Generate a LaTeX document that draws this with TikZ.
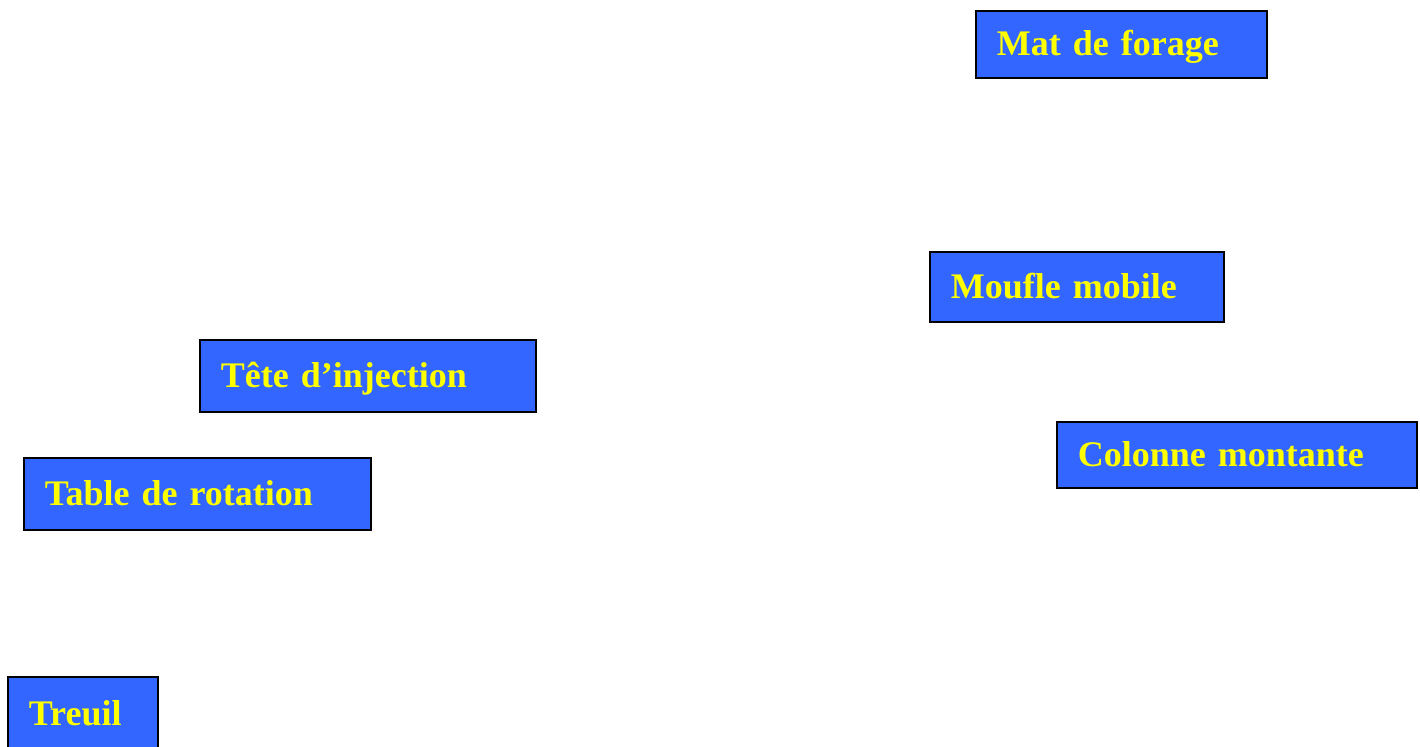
\documentclass[tikz,border=0pt]{standalone}
\usepackage{fontspec}
\setmainfont{Liberation Serif}
\definecolor{PartBlue}{RGB}{51, 102, 255}
\definecolor{PartYellow}{RGB}{255, 255, 0}
\tikzstyle{part} = [rectangle, anchor=north west, align=left, draw=black, fill=PartBlue, text=PartYellow, line width=0.9pt, inner xsep=10.5pt, inner ysep=0pt, text height=1.35em, text depth=0.2em, font=\fontsize{18}{22}\selectfont\bfseries]

\begin{document}
\begin{tikzpicture}[x=0.5pt, y=-0.5pt]
\useasboundingbox (0,0) rectangle (1420,746);

% Mât et moufle
\node (mat) [part, text width=124.5pt, minimum height=33.5pt] at (975,10) {Mat de forage};
\node (moufle) [part, text width=126pt, minimum height=35pt] at (929,251) {Moufle mobile};

% Tête et table
\node (tete) [part, text width=147pt, minimum height=36pt] at (199,339) {Tête d’injection};
\node (table) [part, text width=152.5pt, minimum height=36pt] at (23,457) {Table de rotation};

% Colonne
\node (colonne) [part, text width=159pt, minimum height=33pt] at (1056,421) {Colonne montante};

% Treuil
\node (treuil) [part, text width=54pt, minimum height=37pt] at (7,676) {Treuil};

\end{tikzpicture}
\end{document}
